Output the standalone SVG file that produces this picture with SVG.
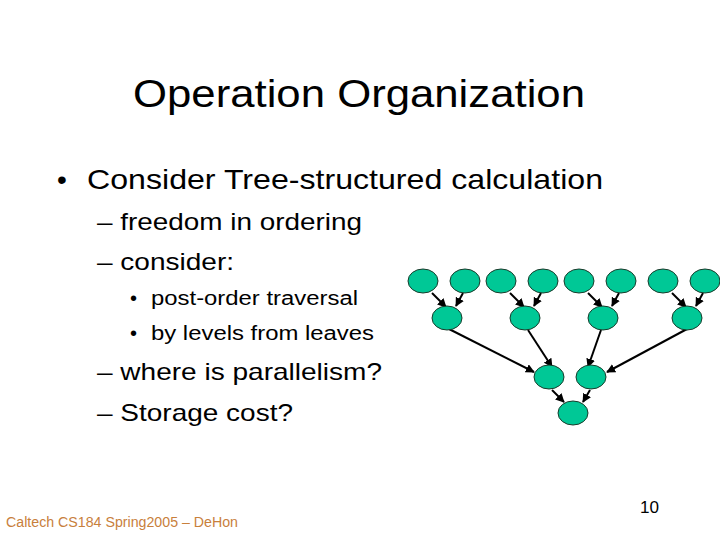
<svg xmlns="http://www.w3.org/2000/svg" width="720" height="540" viewBox="0 0 720 540">
<style>
text{font-family:"Liberation Sans",Arial,sans-serif;fill:#000}
.t{font-size:38px}
.b1{font-size:28px}
.b2{font-size:24px}
.b3{font-size:20px}
.foot{font-size:14px;fill:#c8803c}
.node ellipse{fill:#00c896;stroke:#1a3a2a;stroke-width:1}
.edges line{stroke:#000;stroke-width:2;marker-end:url(#ah)}
</style>
<defs>
<marker id="ah" viewBox="0 0 10 10" refX="9" refY="5" markerWidth="4.5" markerHeight="4.5" orient="auto" markerUnits="strokeWidth">
<path d="M0,0 L10,5 L0,10 z" fill="#000"/>
</marker>
</defs>
<rect width="720" height="540" fill="#fff"/>
<text class="t" x="133" y="107" textLength="452" lengthAdjust="spacingAndGlyphs">Operation Organization</text>
<text class="b1" x="57" y="189">•</text>
<text class="b1" x="87" y="189" textLength="516" lengthAdjust="spacingAndGlyphs">Consider Tree-structured calculation</text>
<text class="b2" x="97" y="230" textLength="265" lengthAdjust="spacingAndGlyphs">– freedom in ordering</text>
<text class="b2" x="97" y="270" textLength="137" lengthAdjust="spacingAndGlyphs">– consider:</text>
<text class="b3" x="130" y="305">•</text>
<text class="b3" x="151" y="305" textLength="207" lengthAdjust="spacingAndGlyphs">post-order traversal</text>
<text class="b3" x="130" y="340">•</text>
<text class="b3" x="151" y="340" textLength="223" lengthAdjust="spacingAndGlyphs">by levels from leaves</text>
<text class="b2" x="97" y="380" textLength="285" lengthAdjust="spacingAndGlyphs">– where is parallelism?</text>
<text class="b2" x="97" y="421" textLength="196" lengthAdjust="spacingAndGlyphs">– Storage cost?</text>
<text class="foot" x="6" y="527" textLength="232" lengthAdjust="spacingAndGlyphs">Caltech CS184 Spring2005 – DeHon</text>
<text x="640" y="513" font-size="16" textLength="19" lengthAdjust="spacingAndGlyphs">10</text>
<g class="edges">
<line x1="432" y1="293" x2="446" y2="307"/>
<line x1="463" y1="293" x2="456" y2="306"/>
<line x1="510" y1="293" x2="524" y2="307"/>
<line x1="541" y1="293" x2="534" y2="306"/>
<line x1="588" y1="293" x2="602" y2="307"/>
<line x1="619" y1="293" x2="612" y2="306"/>
<line x1="672" y1="293" x2="686" y2="307"/>
<line x1="703" y1="293" x2="696" y2="306"/>
<line x1="449" y1="329" x2="534" y2="372"/>
<line x1="528" y1="330" x2="552" y2="367"/>
<line x1="601" y1="330" x2="588" y2="367"/>
<line x1="687" y1="329" x2="607" y2="372"/>
<line x1="552" y1="390" x2="564" y2="402"/>
<line x1="590" y1="390" x2="583" y2="402"/>
</g>
<g id="l1" class="node"><ellipse cx="423" cy="281" rx="15" ry="12"/></g>
<g id="l2" class="node"><ellipse cx="465" cy="281" rx="15" ry="12"/></g>
<g id="l3" class="node"><ellipse cx="501" cy="281" rx="15" ry="12"/></g>
<g id="l4" class="node"><ellipse cx="543" cy="281" rx="15" ry="12"/></g>
<g id="l5" class="node"><ellipse cx="579" cy="281" rx="15" ry="12"/></g>
<g id="l6" class="node"><ellipse cx="621" cy="281" rx="15" ry="12"/></g>
<g id="l7" class="node"><ellipse cx="663" cy="281" rx="15" ry="12"/></g>
<g id="l8" class="node"><ellipse cx="705" cy="281" rx="15" ry="12"/></g>
<g id="m1" class="node"><ellipse cx="447" cy="318" rx="15" ry="12"/></g>
<g id="m2" class="node"><ellipse cx="525" cy="318" rx="15" ry="12"/></g>
<g id="m3" class="node"><ellipse cx="603" cy="318" rx="15" ry="12"/></g>
<g id="m4" class="node"><ellipse cx="687" cy="318" rx="15" ry="12"/></g>
<g id="n1" class="node"><ellipse cx="549" cy="377" rx="15" ry="12"/></g>
<g id="n2" class="node"><ellipse cx="591" cy="377" rx="15" ry="12"/></g>
<g id="root" class="node"><ellipse cx="573" cy="413" rx="15" ry="12"/></g>
</svg>
